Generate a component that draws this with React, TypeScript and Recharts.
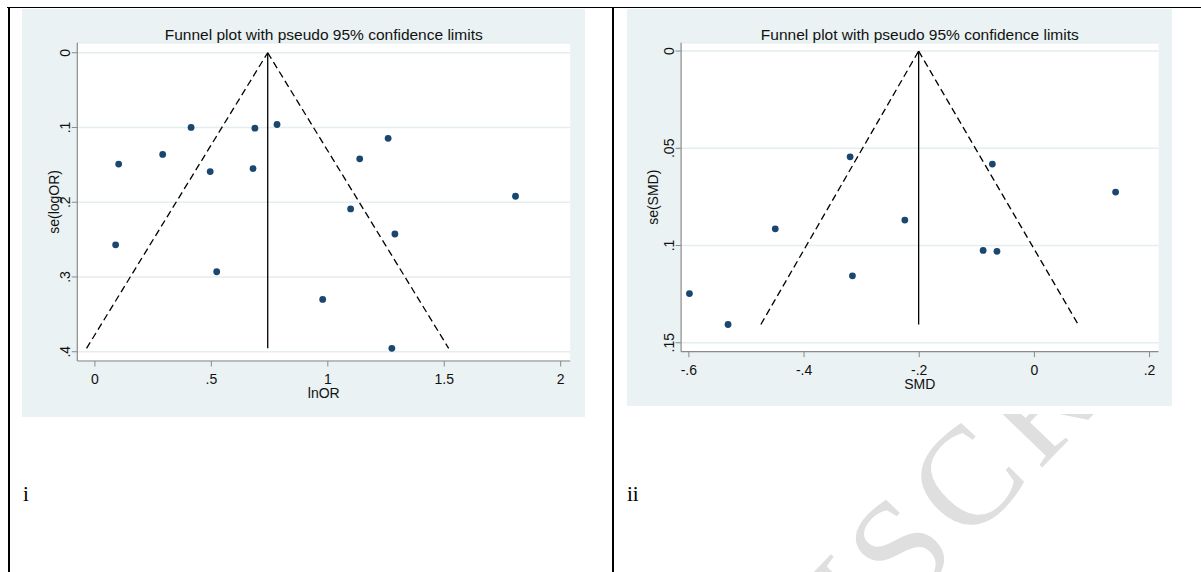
import React from 'react';
import { ScatterChart, Scatter, XAxis, YAxis, CartesianGrid, ReferenceLine } from 'recharts';

// ---------- Panel i (lnOR) ----------
const lnOR = [0.102, 0.291, 0.413, 0.495, 0.687, 0.679, 0.782, 1.137, 1.259, 1.806, 0.089, 0.523, 1.098, 1.288, 0.978, 1.275];
const seLogOR = [0.149, 0.136, 0.1, 0.159, 0.101, 0.155, 0.096, 0.142, 0.1145, 0.192, 0.257, 0.293, 0.209, 0.2425, 0.33, 0.3955];
const xTicksI = [0, 0.5, 1, 1.5, 2];
const xTickLabelsI = ['0', '.5', '1', '1.5', '2'];
const yTicksI = [0, 0.1, 0.2, 0.3, 0.4];
const yTickLabelsI = ['0', '.1', '.2', '.3', '.4'];
const funnelXI = [-0.036, 0.742, 1.519]; // lower limit, pooled estimate, upper limit
const funnelSeI = [0.3955, 0, 0.3955];

// ---------- Panel ii (SMD) ----------
const smd = [-0.32, -0.073, 0.141, -0.45, -0.225, -0.089, -0.065, -0.316, -0.599, -0.532];
const seSMD = [0.0544, 0.0581, 0.0725, 0.0914, 0.0869, 0.1025, 0.103, 0.1156, 0.1247, 0.1406];
const xTicksII = [-0.6, -0.4, -0.2, 0, 0.2];
const xTickLabelsII = ['-.6', '-.4', '-.2', '0', '.2'];
const yTicksII = [0, 0.05, 0.1, 0.15];
const yTickLabelsII = ['0', '.05', '.1', '.15'];
const funnelXII = [-0.475, -0.201, 0.076];
const funnelSeII = [0.1406, 0, 0.1406];

const TITLE = 'Funnel plot with pseudo 95% confidence limits';

const SANS = '"Liberation Sans", Arial, Helvetica, sans-serif';
const SERIF = '"Liberation Serif", "Times New Roman", serif';
const NAVY = '#1a476f';
const GRID = '#e4edef';
const PANEL_BG = '#eaf2f3';
const AXIS = '#8a8a8a';

type PanelProps = {
  left: number;
  top: number;
  width: number;
  height: number;
  plot: { left: number; right: number; top: number; bottom: number };
  xs: number[];
  ys: number[];
  xDomain: [number, number];
  yDomain: [number, number];
  xTicks: number[];
  xLabels: string[];
  yTicks: number[];
  yLabels: string[];
  funnelX: number[];
  funnelSe: number[];
  xTitle: string;
  yTitle: string;
  xTitleY: number;
  yTitleX: number;
};

function FunnelPanel(p: PanelProps) {
  const data = p.xs.map((x, i) => ({ x, y: p.ys[i] }));
  const yAxisWidth = 30;
  const xAxisHeight = 40;
  const plotCenterX = p.plot.left + (p.width - p.plot.left - p.plot.right) / 2;
  const plotCenterY = p.plot.top + (p.height - p.plot.top - p.plot.bottom) / 2;

  const XTick = (props: any) => {
    const { x, y, index } = props;
    return (
      <text x={x} y={y} dy={10} textAnchor="middle" fontSize={14} fontFamily={SANS} fill="#111">
        {p.xLabels[index]}
      </text>
    );
  };
  const YTick = (props: any) => {
    const { x, y, index } = props;
    return (
      <text
        x={x}
        y={y}
        transform={`rotate(-90 ${x} ${y})`}
        textAnchor="middle"
        fontSize={14}
        fontFamily={SANS}
        fill="#111"
      >
        {p.yLabels[index]}
      </text>
    );
  };

  const [lo, c, hi] = p.funnelX;
  const [seLo, seTop, seHi] = p.funnelSe;

  return (
    <div style={{ position: 'absolute', left: p.left, top: p.top, width: p.width, height: p.height, background: PANEL_BG }}>
      <ScatterChart
        width={p.width}
        height={p.height}
        margin={{
          top: p.plot.top,
          right: p.plot.right,
          bottom: p.plot.bottom - xAxisHeight,
          left: p.plot.left - yAxisWidth,
        }}
      >
        <CartesianGrid vertical={false} horizontal stroke={GRID} strokeWidth={1.6} fill="#ffffff" fillOpacity={1} />
        <XAxis
          type="number"
          dataKey="x"
          domain={p.xDomain}
          allowDataOverflow
          ticks={p.xTicks}
          interval={0}
          height={xAxisHeight}
          tickSize={5.5}
          tickMargin={7.5}
          axisLine={{ stroke: AXIS, strokeWidth: 1.2 }}
          tickLine={{ stroke: AXIS }}
          tick={XTick}
        />
        <YAxis
          type="number"
          dataKey="y"
          domain={p.yDomain}
          reversed
          allowDataOverflow
          ticks={p.yTicks}
          interval={0}
          width={yAxisWidth}
          tickSize={5.5}
          tickMargin={2}
          axisLine={{ stroke: AXIS, strokeWidth: 1.2 }}
          tickLine={{ stroke: AXIS }}
          tick={YTick}
        />
        <ReferenceLine
          segment={[{ x: lo, y: seLo }, { x: c, y: seTop }]}
          stroke="#000"
          strokeWidth={1.3}
          strokeDasharray="7 4"
        />
        <ReferenceLine
          segment={[{ x: c, y: seTop }, { x: hi, y: seHi }]}
          stroke="#000"
          strokeWidth={1.3}
          strokeDasharray="7 4"
        />
        <ReferenceLine segment={[{ x: c, y: seTop }, { x: c, y: seLo }]} stroke="#000" strokeWidth={1.3} />
        <Scatter
          data={data}
          isAnimationActive={false}
          shape={(s: any) => <circle cx={s.cx} cy={s.cy} r={3.4} fill={NAVY} />}
        />
      </ScatterChart>
      <svg
        width={p.width}
        height={p.height}
        style={{ position: 'absolute', left: 0, top: 0, pointerEvents: 'none' }}
      >
        <text x={plotCenterX} y={31} textAnchor="middle" fontSize={15.5} fontFamily={SANS} fill="#111">
          {TITLE}
        </text>
        <text x={plotCenterX} y={p.xTitleY} textAnchor="middle" fontSize={14} fontFamily={SANS} fill="#111">
          {p.xTitle}
        </text>
        <text
          x={p.yTitleX}
          y={plotCenterY}
          transform={`rotate(-90 ${p.yTitleX} ${plotCenterY})`}
          textAnchor="middle"
          fontSize={14}
          fontFamily={SANS}
          fill="#111"
        >
          {p.yTitle}
        </text>
      </svg>
    </div>
  );
}

export default function App() {
  return (
    <div
      style={{
        position: 'absolute',
        left: 0,
        top: 0,
        width: 1201,
        height: 572,
        background: '#ffffff',
        overflow: 'hidden',
      }}
    >
      {/* watermark */}
      <svg width={1201} height={572} style={{ position: 'absolute', left: 0, top: 0 }}>
        <defs>
          <clipPath id="wmclip">
            <rect x={614} y={414} width={587} height={158} />
          </clipPath>
        </defs>
        <g clipPath="url(#wmclip)">
          <text
            x={581}
            y={945}
            transform="rotate(-46 581 945)"
            fontFamily={SERIF}
            fontSize={140}
            letterSpacing={10}
            fill="#dfdfdf"
          >
            MANUSCRIPT
          </text>
        </g>
      </svg>

      {/* table borders */}
      <div style={{ position: 'absolute', left: 7, top: 6.5, width: 1194, height: 1.5, background: '#000' }} />
      <div style={{ position: 'absolute', left: 7.5, top: 6.5, width: 2, height: 566, background: '#000' }} />
      <div style={{ position: 'absolute', left: 611.7, top: 6.5, width: 2, height: 566, background: '#000' }} />

      <FunnelPanel
        left={22}
        top={9}
        width={563}
        height={408}
        plot={{ left: 55.3, right: 14.8, top: 33.7, bottom: 56 }}
        xs={lnOR}
        ys={seLogOR}
        xDomain={[-0.0756, 2.0408]}
        yDomain={[-0.0134, 0.4124]}
        xTicks={xTicksI}
        xLabels={xTickLabelsI}
        yTicks={yTicksI}
        yLabels={yTickLabelsI}
        funnelX={funnelXI}
        funnelSe={funnelSeI}
        xTitle="lnOR"
        yTitle="se(logOR)"
        xTitleY={389}
        yTitleX={37}
      />
      <FunnelPanel
        left={627}
        top={9}
        width={545}
        height={397}
        plot={{ left: 54.1, right: 13.5, top: 33.7, bottom: 54.3 }}
        xs={smd}
        ys={seSMD}
        xDomain={[-0.6135, 0.2155]}
        yDomain={[-0.0043, 0.1546]}
        xTicks={xTicksII}
        xLabels={xTickLabelsII}
        yTicks={yTicksII}
        yLabels={yTickLabelsII}
        funnelX={funnelXII}
        funnelSe={funnelSeII}
        xTitle="SMD"
        yTitle="se(SMD)"
        xTitleY={380}
        yTitleX={31}
      />

      <div style={{ position: 'absolute', left: 23, top: 480, fontFamily: SERIF, fontSize: 21, lineHeight: '28px' }}>i</div>
      <div style={{ position: 'absolute', left: 627, top: 480, fontFamily: SERIF, fontSize: 21, lineHeight: '28px' }}>ii</div>
    </div>
  );
}
